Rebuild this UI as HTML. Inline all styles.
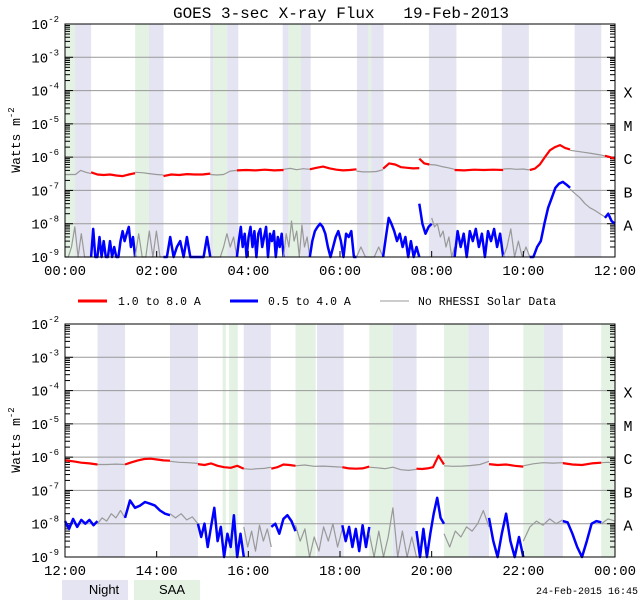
<!DOCTYPE html>
<html><head><meta charset="utf-8"><style>
html,body{margin:0;padding:0;background:#fff;}
svg{display:block;font-family:"Liberation Mono",monospace;}
</style></head><body>
<svg id="chart" width="640" height="600" viewBox="0 0 640 600" xmlns="http://www.w3.org/2000/svg">
<text x="341" y="18" font-size="16" text-anchor="middle" style="white-space:pre">GOES 3-sec X-ray Flux&#160;&#160;&#160;19-Feb-2013</text>
<g id="p1"></g>
<g id="p2"></g>
<g font-size="11.5">
 <line x1="78" y1="301" x2="107" y2="301" stroke="#f00" stroke-width="3"/>
 <text x="118" y="305">1.0 to 8.0 A</text>
 <line x1="230" y1="301" x2="258" y2="301" stroke="#00f" stroke-width="3"/>
 <text x="268" y="305">0.5 to 4.0 A</text>
 <line x1="380" y1="301" x2="409" y2="301" stroke="#999" stroke-width="1"/>
 <text x="418" y="305">No RHESSI Solar Data</text>
</g>
<g font-size="13">
 <rect x="62" y="580" width="66" height="20" fill="#e4e4f2"/>
 <text x="104" y="594" text-anchor="middle" font-family="Liberation Sans, sans-serif">Night</text>
 <rect x="134" y="580" width="66" height="20" fill="#e4f2e4"/>
 <text x="172" y="594" text-anchor="middle" font-family="Liberation Sans, sans-serif">SAA</text>
</g>
<text x="638" y="594" font-size="10" text-anchor="end">24-Feb-2015 16:45</text>
</svg>
<script>
const NS="http://www.w3.org/2000/svg";
const yTickExps=[-2,-3,-4,-5,-6,-7,-8,-9];
const classLabels=["X","M","C","B","A"];
const classExps=[-4,-5,-6,-7,-8];
const xTickLabels1=["00:00","02:00","04:00","06:00","08:00","10:00","12:00"];
const xTickLabels2=["12:00","14:00","16:00","18:00","20:00","22:00","00:00"];
const bands1=[["s",0,0.22],["n",0.22,0.57],["s",1.53,1.83],["n",1.83,2.15],["n",3.17,3.23],["s",3.23,3.54],["n",3.54,3.78],["n",4.75,4.88],["s",4.88,5.15],["n",5.15,5.36],["n",6.37,6.62],["s",6.62,6.68],["n",6.68,6.95],["n",7.94,8.54],["n",9.53,10.12],["n",11.12,11.7]];
const bands2=[["n",12.71,13.31],["n",14.29,14.9],["s",15.44,15.51],["s",15.58,15.77],["n",15.9,16.49],["s",17.03,17.47],["n",17.5,18.08],["s",18.64,19.15],["n",19.15,19.67],["s",20.27,20.8],["n",20.8,21.25],["s",22.0,22.45],["n",22.45,22.86],["s",23.7,24]];
const long1=[
["g",0,0.57,[3e-7,3e-7,3e-7,4e-7,3.5e-7,3.2e-7]],
["r",0.57,1.53,[3.5e-7,3e-7,2.9e-7,3e-7,2.8e-7,2.7e-7,3e-7,3.3e-7]],
["g",1.53,2.15,[3.5e-7,3.4e-7,3.2e-7,3e-7,2.9e-7]],
["r",2.15,3.17,[2.7e-7,3e-7,2.9e-7,3.1e-7,3e-7,3e-7,3.2e-7]],
["g",3.17,3.75,[3e-7,2.9e-7,3e-7,3.8e-7,4e-7]],
["r",3.75,4.77,[4e-7,4.1e-7,4e-7,4.2e-7,4e-7,4.1e-7]],
["g",4.77,5.34,[4.3e-7,4.6e-7,4.2e-7,4.5e-7,4.3e-7]],
["r",5.34,6.36,[4.3e-7,4.8e-7,5.2e-7,4.6e-7,4.2e-7,4e-7,4.1e-7,4.3e-7]],
["g",6.36,6.94,[3.8e-7,3.6e-7,3.6e-7,3.7e-7,4.2e-7]],
["r",6.94,7.73,[4.5e-7,6.5e-7,6e-7,5e-7,4.8e-7,4.6e-7,4.7e-7]],
["r",7.73,7.95,[9e-7,6.5e-7,6e-7]],
["g",7.95,8.5,[6e-7,5.8e-7,5.2e-7,4.8e-7,4.3e-7]],
["r",8.5,9.56,[4.1e-7,4e-7,4.2e-7,4.1e-7,4.2e-7,4.1e-7]],
["g",9.56,10.14,[4.4e-7,4.5e-7,4.3e-7,4.4e-7,4.1e-7]],
["r",10.14,11.02,[4.1e-7,4.5e-7,6e-7,1e-6,1.6e-6,2e-6,2.3e-6,1.9e-6,1.7e-6]],
["g",11.02,11.78,[1.6e-6,1.5e-6,1.4e-6,1.3e-6,1.2e-6,1.1e-6]],
["r",11.78,12,[1.1e-6,1e-6,9e-7]]];
const short1=[
["g",0,0.57,[1e-9,1e-9,2e-9,8e-9,1e-9,5e-9,1e-9,1e-9,1e-9]],
["b",0.57,1.53,[1e-10,7e-9,1e-10,1e-10,4e-9,1e-10,3e-9,1e-10,1e-10,3e-9,1e-10,2e-9,1e-10,1e-10,3e-9,6e-9,3e-9,5e-9,8e-9,2e-9,4e-9,1e-10]],
["g",1.53,2.15,[1e-9,5e-9,1e-9,1e-9,6e-9,1e-9,6e-9,1e-9,1e-10]],
["b",2.15,3.17,[1e-10,1e-10,4e-9,1e-10,2e-9,3e-9,1e-10,4e-9,1e-10,1e-10,1e-10,1e-10,1e-10,4e-9,1e-10]],
["g",3.17,3.75,[1e-10,1e-10,1e-10,1e-10,2e-9,5e-9,2e-9,4e-9,1e-9]],
["b",3.75,4.77,[1e-10,3e-9,8e-9,2e-9,5e-9,1e-9,4e-9,8e-9,2e-9,6e-9,1e-9,5e-9,7e-9,2e-9,4e-9,8e-9,1e-9,5e-9,3e-9,6e-9,1e-9,4e-9,2e-9,5e-9,1e-10]],
["g",4.77,5.34,[1e-9,5e-9,2e-9,1.2e-8,3e-9,6e-9,1e-9,9e-9,2e-9,4e-9,1e-9]],
["b",5.34,6.36,[1e-10,3e-9,6e-9,8e-9,1e-8,8e-9,5e-9,2e-9,1e-10,2e-9,4e-9,6e-9,3e-9,1e-9,5e-9,4e-9,6e-9,1e-9,1e-10]],
["g",6.36,6.94,[1e-10,2e-9,1e-9,1e-10,1e-10,2e-9,1e-9]],
["b",6.94,7.73,[1e-9,4e-9,1.5e-8,1e-8,6e-9,3e-9,5e-9,2e-9,4e-9,1e-9,3e-9,1e-10,2e-9,1e-10]],
["b",7.73,8.0,[4e-8,1e-8,5e-9,8e-9,1e-8]],
["g",8.0,8.5,[1.5e-8,8e-9,1e-8,4e-9,6e-9,2e-9,4e-9,1e-9,2e-9]],
["b",8.5,9.56,[1e-10,6e-9,2e-9,5e-9,1e-9,6e-9,3e-9,7e-9,2e-9,5e-9,1e-9,6e-9,3e-9,7e-9,2e-9,5e-9,1e-10]],
["g",9.56,10.14,[1e-9,2e-9,7e-9,1e-9,3e-9,1e-9,2e-9,1e-10]],
["b",10.14,11.02,[1e-10,1e-10,2e-9,3e-9,1e-8,3e-8,6e-8,1.2e-7,1.6e-7,1.8e-7,1.5e-7,1.2e-7]],
["g",11.02,11.78,[1.1e-7,8e-8,6e-8,4e-8,3e-8,2.5e-8,2e-8,1.6e-8]],
["b",11.78,12,[1.5e-8,2e-8,1.2e-8,1e-8]]];
const long2=[
["r",12,12.71,[8e-7,7.5e-7,6.8e-7,6.5e-7,6e-7]],
["g",12.71,13.31,[6e-7,6e-7,6.2e-7,6e-7]],
["r",13.31,14.29,[6e-7,7e-7,8e-7,8.8e-7,9e-7,8.5e-7,8e-7,7.8e-7]],
["g",14.29,14.9,[7.5e-7,7e-7,6.8e-7,6.5e-7]],
["r",14.9,15.9,[6.2e-7,5.8e-7,6.5e-7,5.5e-7,5e-7,4.8e-7,5.5e-7,4.5e-7]],
["g",15.9,16.5,[4.5e-7,4.3e-7,4.5e-7,4.6e-7,5e-7]],
["r",16.5,17.03,[4.5e-7,5e-7,6e-7,5.8e-7,5.5e-7]],
["g",17.03,18.05,[5.5e-7,5.8e-7,5.3e-7,5.4e-7,5.2e-7,5e-7]],
["r",18.05,18.64,[5e-7,4.6e-7,4.5e-7,4.6e-7,5.2e-7]],
["g",18.64,19.67,[5e-7,4.8e-7,4.5e-7,5e-7,4.2e-7,4e-7,4.3e-7]],
["r",19.67,20.27,[4.5e-7,4.4e-7,4.6e-7,5e-7,1.1e-6,6e-7]],
["g",20.27,21.25,[5.5e-7,5.3e-7,5.4e-7,5.6e-7,6e-7,7.5e-7]],
["r",21.25,22,[6.2e-7,5.8e-7,6e-7,5.5e-7,5.2e-7]],
["g",22,22.86,[5.5e-7,6.3e-7,6.8e-7,6.6e-7,6.8e-7]],
["r",22.86,23.7,[6.6e-7,6e-7,5.8e-7,6.5e-7,6.8e-7]],
["g",23.7,24,[6.8e-7,7e-7,6.5e-7]]];
const short2=[
["b",12,12.71,[1.2e-8,7e-9,1.4e-8,8e-9,1.3e-8,1e-8,1.3e-8,9e-9,1.2e-8]],
["g",12.71,13.31,[1e-8,1.5e-8,1.2e-8,2e-8,1.5e-8,2.5e-8,1.5e-8]],
["b",13.31,14.29,[1.5e-8,5e-8,3e-8,3.5e-8,4.5e-8,4e-8,3.5e-8,2.5e-8,2e-8,1.8e-8]],
["g",14.29,14.9,[2e-8,1.5e-8,2e-8,1.3e-8,1.6e-8,1e-8]],
["b",14.9,15.9,[1e-8,4e-9,1e-8,2e-9,8e-9,3e-8,3e-9,8e-9,1e-10,5e-9,2e-9,1.8e-8,1e-10,5e-9,1e-10]],
["g",15.9,16.5,[8e-9,2e-9,6e-9,1.5e-9,9e-9,3e-9,7e-9,2e-9]],
["b",16.5,17.03,[8e-9,1e-8,5e-9,1.4e-8,1.8e-8,1.2e-8,6e-9]],
["g",17.03,18.05,[9e-9,3e-9,7e-9,1e-10,4e-9,1.5e-9,8e-9,3e-9,1e-8,2e-9,7e-9]],
["b",18.05,18.64,[9e-9,3e-9,8e-9,2e-9,7e-9,1.5e-9,9e-9,2e-9,8e-9]],
["g",18.64,19.67,[5e-9,1e-9,6e-9,1e-10,4e-9,3e-8,1e-9,6e-9,1e-10,4e-9,1e-9]],
["b",19.67,20.27,[6e-9,1e-9,7e-9,1e-10,5e-9,2e-8,6e-8,1.5e-8,1e-8]],
["g",20.27,21.25,[5e-9,2e-9,6e-9,4e-9,8e-9,6e-9,1e-8,2.5e-8,8e-9]],
["b",21.25,22,[1.5e-8,3e-9,1e-10,5e-9,2e-8,3e-9,1e-9,4e-9,1e-10]],
["g",22,22.86,[3e-9,8e-9,1.2e-8,9e-9,1.4e-8,1e-8,1.3e-8]],
["b",22.86,23.7,[1.2e-8,1.1e-8,5e-9,2e-9,1e-10,3e-9,1e-8,1.2e-8,1.1e-8]],
["g",23.7,24,[1e-8,1.4e-8,1.2e-8]]];

const COLORS={r:"#ff0000",b:"#0000ff",g:"#999999"};
function mk(tag,attrs,parent){const e=document.createElementNS(NS,tag);for(const k in attrs)e.setAttribute(k,attrs[k]);parent.appendChild(e);return e;}

function panel(g,top,bottom,h0,bands,longS,shortS,xLabels,pfx){
  const L=65,R=615;
  const x=h=>L+(h-h0)/12*(R-L);
  const y=v=>{let yy=top+(-2-Math.log10(v))*(bottom-top)/7;return Math.min(bottom,Math.max(top,yy));};
  bands.forEach(b=>{
    const r=mk("rect",{x:x(b[1]),y:top,width:x(b[2])-x(b[1]),height:bottom-top,fill:b[0]==="n"?"#e4e4f2":"#e4f2e4"},g);
    
    
  });
  yTickExps.forEach(e=>{
    if(e<-2&&e>-9){
      const ln=mk("line",{x1:L,x2:R,y1:y(Math.pow(10,e)),y2:y(Math.pow(10,e)),stroke:"#999","stroke-width":1},g);
      
      
    }
  });
  for(let e=-9;e<-2;e++){for(let m=1;m<10;m++){const v=m*Math.pow(10,e);const yy=y(v);const len=m===1?8:5;
    mk("line",{x1:L,x2:L+len,y1:yy,y2:yy,stroke:"#000","stroke-width":1},g);
    mk("line",{x1:R-len,x2:R,y1:yy,y2:yy,stroke:"#000","stroke-width":1},g);}}
  function drawSeries(segs,w,name){
    segs.forEach(s=>{
      const n=s[3].length;const pts=s[3].map((v,i)=>x(s[1]+(s[2]-s[1])*i/(n-1)).toFixed(1)+","+y(v).toFixed(1)).join(" ");
      const p=mk("polyline",{points:pts,fill:"none",stroke:COLORS[s[0]],"stroke-width":s[0]==="g"?1.2:w,"stroke-linejoin":"round"},g);
      
      
    });
  }
  drawSeries(longS,2.2,pfx+'long-channel-line');
  drawSeries(shortS,2.5,pfx+'short-channel-line');
  const fr=mk("rect",{x:L,y:top,width:R-L,height:bottom-top,fill:"none",stroke:"#000","stroke-width":1},g);
  
  
  yTickExps.forEach(e=>{
    const t=mk("text",{x:L-6,y:y(Math.pow(10,e))+5,"font-size":14,"text-anchor":"end"},g);
    
    
    t.innerHTML='10<tspan dy="-7" font-size="9">'+e+'</tspan>';
  });
  classLabels.forEach((c,i)=>{
    const t=mk("text",{x:628,y:y(Math.pow(10,classExps[i]))+7,"font-size":15,"text-anchor":"middle"},g);
    
    
    t.textContent=c;
  });
  xLabels.forEach((lab,i)=>{
    const xx=x(h0+2*i);
    mk("line",{x1:xx,x2:xx,y1:bottom,y2:bottom-6,stroke:"#000"},g);
    const t=mk("text",{x:xx,y:bottom+18,"font-size":14,"text-anchor":"middle"},g);
    
    
    t.textContent=lab;
  });
  const yl=mk("text",{x:0,y:0,"font-size":13,"text-anchor":"middle",transform:"translate(20,"+(top+116)+") rotate(-90)"},g);
  
  
  yl.innerHTML='Watts  m<tspan dy="-6" font-size="9">-2</tspan>';
}
panel(document.getElementById("p1"),24,257,0,bands1,long1,short1,xTickLabels1,'');
panel(document.getElementById("p2"),324,557,12,bands2,long2,short2,xTickLabels2,'');
</script>
</body></html>
